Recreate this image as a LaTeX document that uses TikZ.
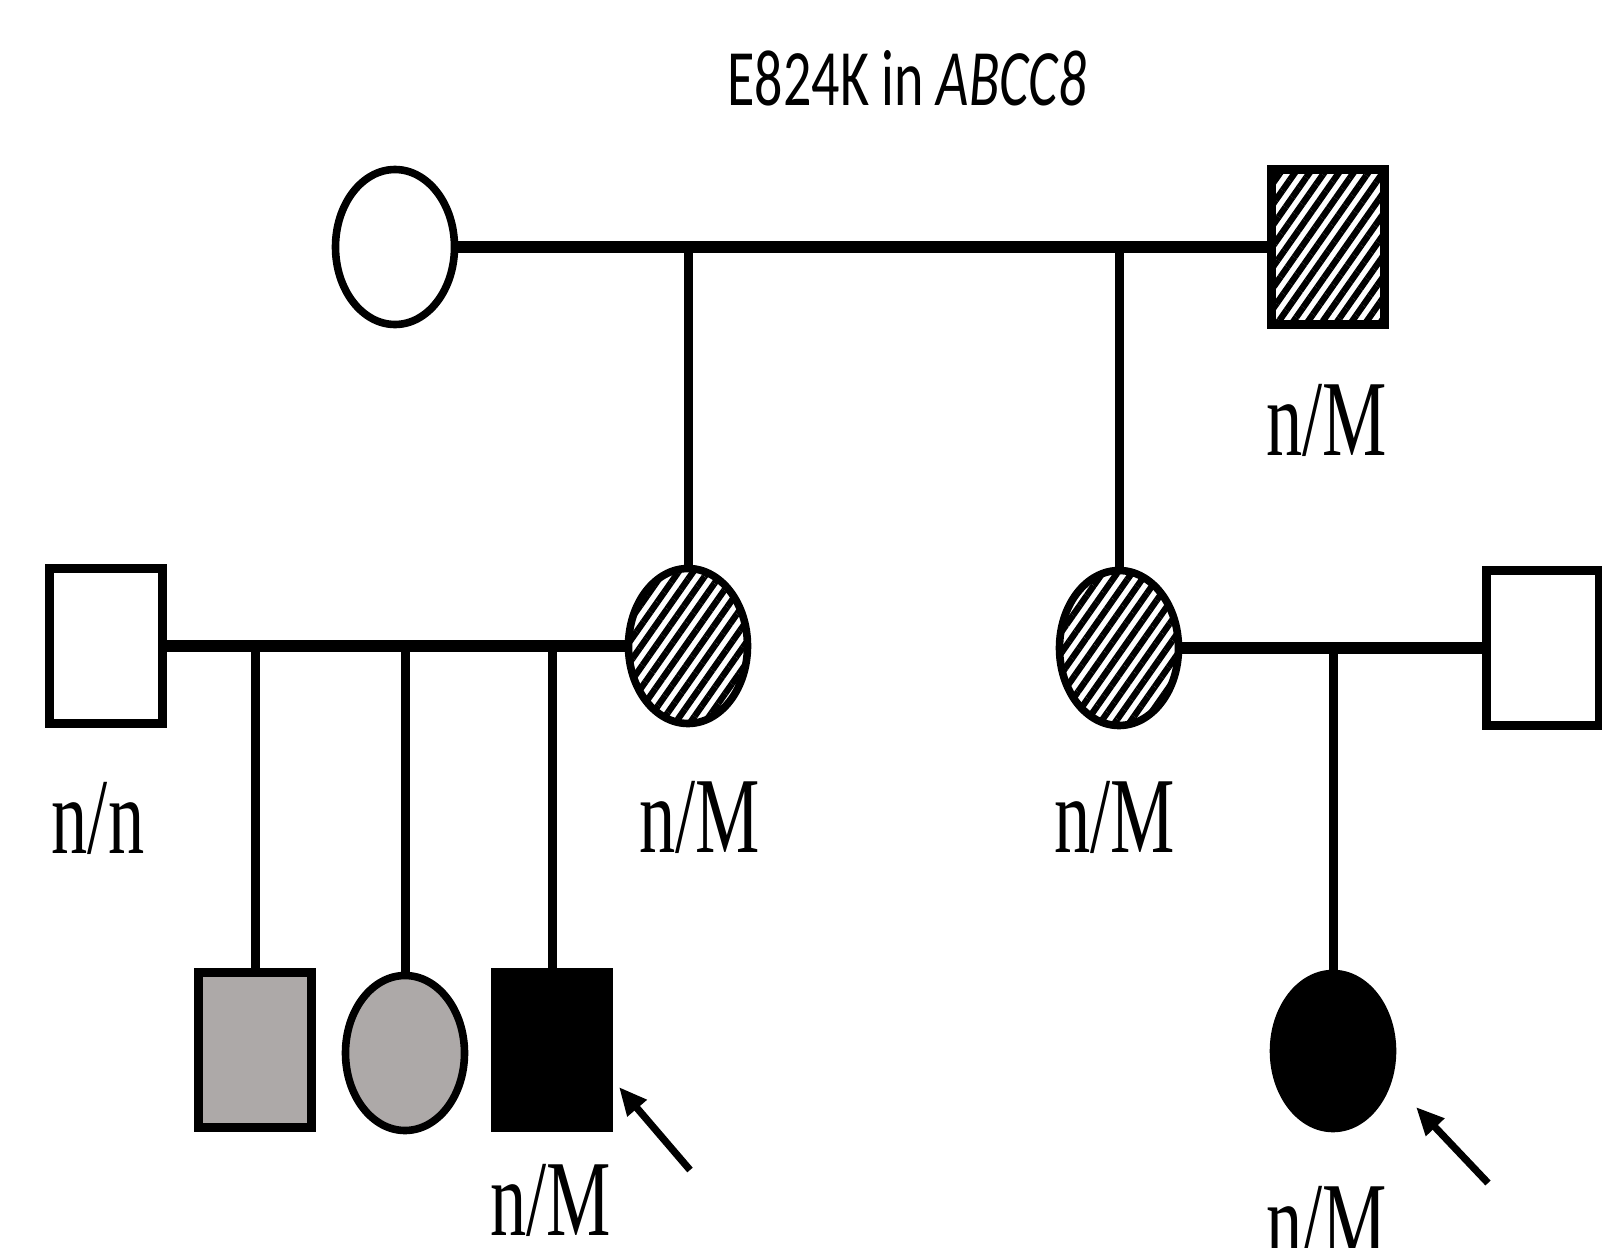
\documentclass[tikz,border=0pt]{standalone}
\usepackage{fontspec}
\setmainfont{Liberation Serif}
\newfontfamily\titlefont{Carlito}
\usetikzlibrary{shapes.geometric, patterns.meta, arrows.meta}
\definecolor{carrier}{RGB}{173,169,168}

\tikzset{
    male/.style={draw, line width=4.5pt, rectangle, minimum width=56.5pt, minimum height=77.5pt, inner sep=0pt},
    female/.style={draw, line width=3.8pt, ellipse, minimum width=59.5pt, minimum height=77.5pt, inner sep=0pt},
    hatched/.style={pattern={Lines[angle=55, distance=6pt, line width=3.2pt]}},
    geno/.style={font=\fontsize{54}{60}\selectfont, xscale=0.67, inner sep=0pt, anchor=base},
    mating/.style={line width=6pt},
    descent/.style={line width=4.5pt},
    proband/.style={line width=3.6pt, -{Triangle[length=14pt, width=12pt]}},
}

\begin{document}
\begin{tikzpicture}[x=0.5pt, y=-0.5pt]
    \useasboundingbox (0,0) rectangle (1602,1248);
    \clip (0,0) rectangle (1602,1248);

    \node[font=\titlefont\fontsize{40}{48}\selectfont, xscale=0.7, anchor=base, inner sep=0pt] (title) at (907,105) {E824K in \textit{ABCC8}};

    \node[female] (gm) at (395,247) {};
    \node[male, hatched] (gf) at (1328,247) {};

    \node[male] (f1) at (106,646) {};
    \node[female, hatched] (m1) at (688,646) {};
    \node[female, hatched] (m2) at (1119,648) {};
    \node[male] (f2) at (1543,648) {};

    \node[male, fill=carrier] (s1) at (255,1050) {};
    \node[female, fill=carrier] (d1) at (405,1053) {};
    \node[male, fill=black] (s2) at (552,1050) {};
    \node[female, fill=black] (d2) at (1333,1051) {};

    \draw[mating] (gm.east) -- (gf.west);
    \draw[descent] (m1 |- gm) -- (m1.north);
    \draw[descent] (m2 |- gm) -- (m2.north);

    \draw[mating] (f1.east) -- (m1.west);
    \draw[descent] (s1 |- m1) -- (s1.north);
    \draw[descent] (d1 |- m1) -- (d1.north);
    \draw[descent] (s2 |- m1) -- (s2.north);

    \draw[mating] (m2.east) -- (f2.west);
    \draw[descent] (d2 |- m2) -- (d2.north);

    \node[geno] (gfg) at (1327,455) {n/M};
    \node[geno] (f1g) at (98,853) {n/n};
    \node[geno] (m1g) at (700,852) {n/M};
    \node[geno] (m2g) at (1115,852) {n/M};
    \node[geno] (s2g) at (551,1235) {n/M};
    \node[geno] (d2g) at (1327,1257) {n/M};

    \coordinate (p1) at (690,1170);
    \coordinate (p1tip) at (619,1087);
    \draw[proband] (p1) -- (p1tip);
    \coordinate (p2) at (1488,1183);
    \coordinate (p2tip) at (1416,1107);
    \draw[proband] (p2) -- (p2tip);
\end{tikzpicture}
\end{document}
